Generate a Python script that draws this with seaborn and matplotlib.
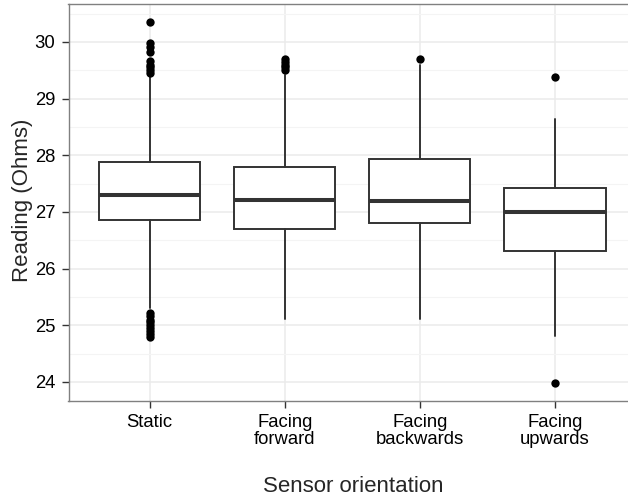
import matplotlib
matplotlib.use("Agg")
import matplotlib.pyplot as plt
from matplotlib.ticker import MultipleLocator
import pandas as pd
import seaborn as sns

# Sensor orientation categories
categories = ["Static", "Facing\nforward", "Facing\nbackwards", "Facing\nupwards"]

# Box summaries (Ohms)
q1 = [26.85, 26.70, 26.80, 26.32]
median = [27.30, 27.21, 27.20, 27.00]
q3 = [27.89, 27.80, 27.93, 27.42]
whisker_low = [25.30, 25.12, 25.11, 24.82]
whisker_high = [29.42, 29.42, 29.60, 28.64]

# Outlying readings per orientation
outliers_static = [30.35, 29.99, 29.91, 29.83, 29.66, 29.60, 29.55, 29.50, 29.46,
                   25.22, 25.16, 25.10, 25.05, 25.00, 24.95, 24.90, 24.85, 24.79]
outliers_forward = [29.70, 29.65, 29.60, 29.55, 29.51]
outliers_backwards = [29.70]
outliers_upwards = [29.38, 23.98]

sns.set_theme(style="white")
plt.rcParams["font.family"] = ["Liberation Sans", "DejaVu Sans"]

fig = plt.figure(figsize=(6.28, 4.99), dpi=100)
ax = fig.add_axes([68.5 / 628, 98.3 / 499, (636 - 68.5) / 628, (400.7 - 4) / 499])

stats = []
for i, cat in enumerate(categories):
    stats.append(dict(label=cat, med=median[i], q1=q1[i], q3=q3[i],
                      whislo=whisker_low[i], whishi=whisker_high[i], fliers=[]))

edge = "#333333"
ax.bxp(stats, positions=range(len(categories)), widths=0.75, showfliers=False,
       showcaps=False, patch_artist=True,
       boxprops=dict(facecolor="white", edgecolor=edge, linewidth=1.4),
       medianprops=dict(color=edge, linewidth=2.9, solid_capstyle="butt"),
       whiskerprops=dict(color=edge, linewidth=1.4))

outlier_df = pd.DataFrame({
    "orientation": ([categories[0]] * len(outliers_static)
                    + [categories[1]] * len(outliers_forward)
                    + [categories[2]] * len(outliers_backwards)
                    + [categories[3]] * len(outliers_upwards)),
    "reading": outliers_static + outliers_forward + outliers_backwards + outliers_upwards,
})
sns.stripplot(data=outlier_df, x="orientation", y="reading", order=categories,
              jitter=False, color="black", size=6, linewidth=0, ax=ax, zorder=3)

ax.set_xlim(-0.6, 3.6)
ax.set_ylim(23.67, 30.67)
ax.set_xticks(range(len(categories)))
ax.set_xticklabels(categories, fontsize=13.3, linespacing=1.02, color="black")
ax.yaxis.set_major_locator(MultipleLocator(1))
ax.yaxis.set_minor_locator(MultipleLocator(0.5))
ax.tick_params(axis="y", which="major", labelsize=13.3, labelcolor="black",
               length=5, width=1.0, color=edge, pad=4.6, left=True)
ax.tick_params(axis="y", which="minor", length=0, left=False)
ax.tick_params(axis="x", which="major", length=5, width=1.0, color=edge,
               pad=4.5, bottom=True)

ax.set_axisbelow(True)
ax.grid(which="major", color="#ebebeb", linewidth=1.1)
ax.grid(which="minor", axis="y", color="#f4f4f4", linewidth=0.8)

for side, spine in ax.spines.items():
    spine.set_visible(True)
    spine.set_color("#808080")
    spine.set_linewidth(1.0)

ax.set_xlabel("Sensor orientation", fontsize=16, va="center")
ax.set_ylabel("Reading (Ohms)", fontsize=16, va="center")
ax.xaxis.set_label_coords(0.501, -0.2175)
ax.yaxis.set_label_coords(-0.0819, 0.505)

fig.savefig("out.png", dpi=100)
